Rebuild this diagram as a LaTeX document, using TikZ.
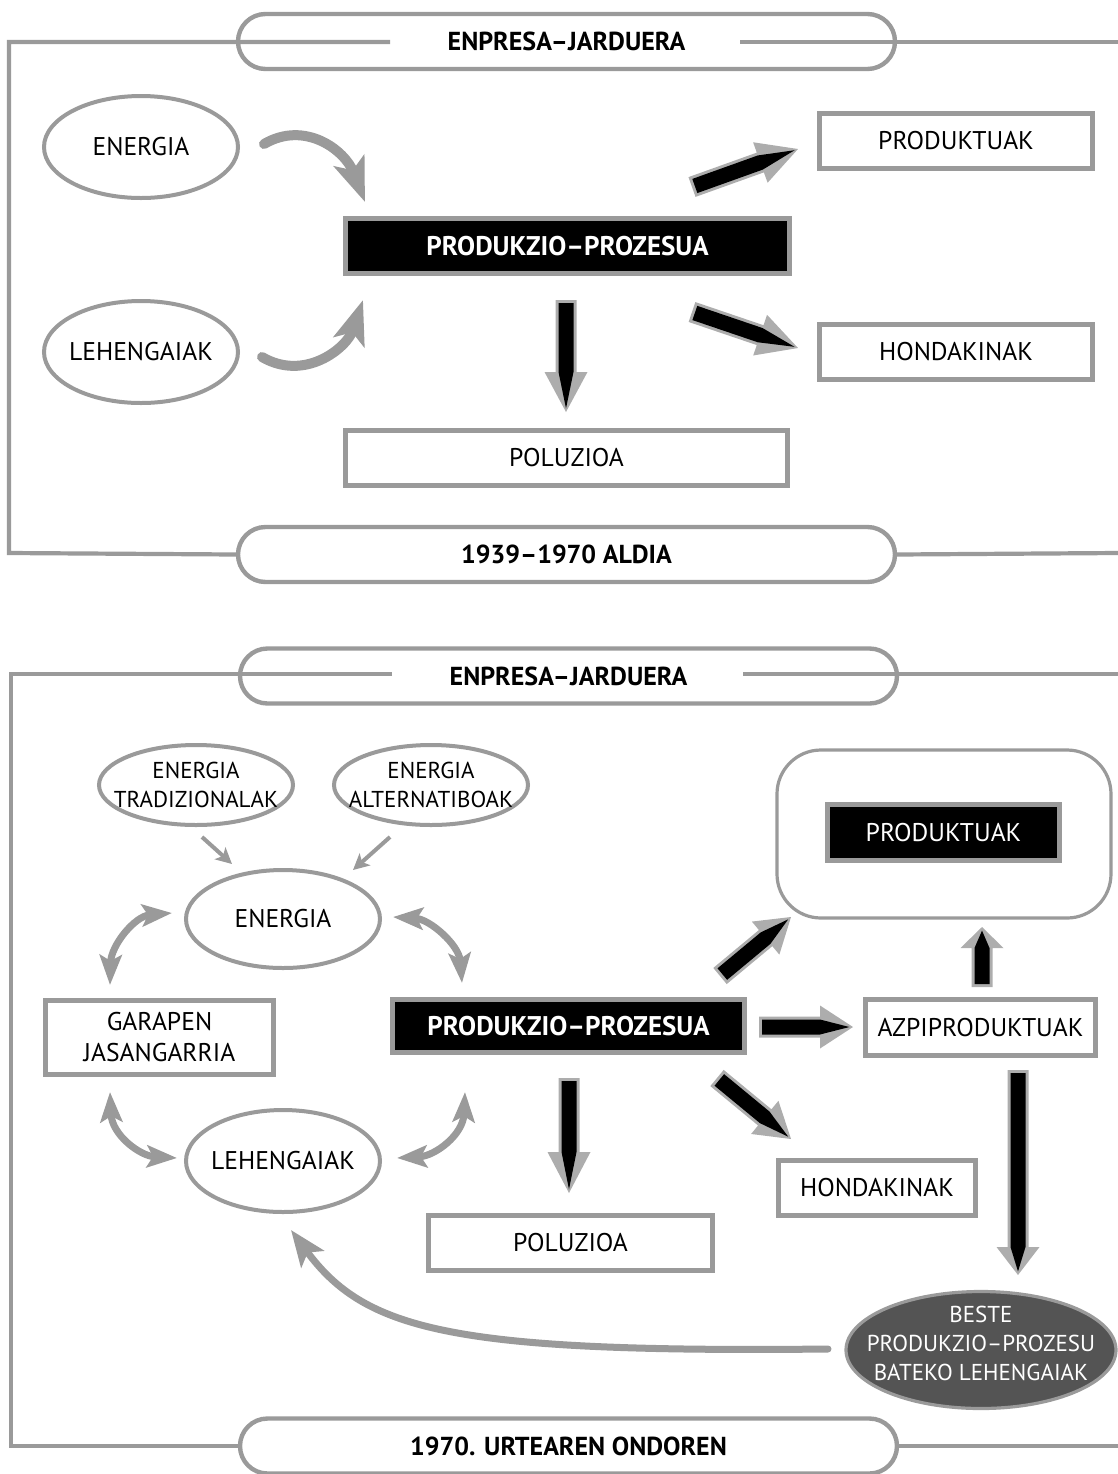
\documentclass[tikz,border=0pt]{standalone}
\usepackage{fontspec}
\setmainfont{PT Sans}
\usetikzlibrary{arrows.meta,calc,shapes.geometric}

\definecolor{linegray}{HTML}{9A9A9A}
\definecolor{tipgray}{HTML}{ADADAD}
\definecolor{ovalfill}{HTML}{545454}

% Fat arrow: gray outline and head, black core. #1 tail, #2 tip, #3 head length
\newcommand\blockarrow[3]{%
  \path ($(#2)!#3!(#1)$) coordinate (bahead)
        ($(#1)!1.5pt!(#2)$) coordinate (batail)
        ($(#2)!1.8pt!(#1)$) coordinate (batip);
  \fill[tipgray] ($(#1)!5.25pt!90:(#2)$) -- ($(bahead)!5.25pt!90:(#2)$)
     -- ($(bahead)!10.75pt!90:(#2)$) -- (#2) -- ($(bahead)!10.75pt!-90:(#2)$)
     -- ($(bahead)!5.25pt!-90:(#2)$) -- ($(#1)!5.25pt!-90:(#2)$) -- cycle;
  \fill[black] ($(batail)!3.75pt!90:(#2)$) -- ($(bahead)!3.75pt!90:(#2)$)
     -- (batip) -- ($(bahead)!3.75pt!-90:(#2)$) -- ($(batail)!3.75pt!-90:(#2)$) -- cycle;
}

\tikzset{
  frameline/.style={draw=linegray,line width=2.1pt},
  pill/.style={rectangle,draw=linegray,line width=2.2pt,rounded corners=13.75pt,
    minimum width=328.5pt,minimum height=27.5pt,inner sep=0pt,
    font=\fontsize{13}{15}\selectfont\bfseries},
  oval/.style={ellipse,draw=linegray,line width=2pt,fill=white,inner xsep=-16pt,
    inner ysep=0pt,align=center},
  bigtext/.style={font=\fontsize{12.8}{15}\selectfont},
  smalltext/.style={font=\fontsize{11.5}{14.5}\selectfont},
  plainbox/.style={rectangle,draw=linegray,line width=2.5pt,fill=white,inner sep=0pt,
    align=center,font=\fontsize{12.8}{15.5}\selectfont},
  darkbox/.style={rectangle,draw=linegray,line width=2.5pt,fill=black,text=white,
    inner sep=0pt,font=\fontsize{12.8}{15}\selectfont},
  boldlabel/.style={font=\fontsize{13.5}{15}\selectfont\bfseries},
  bendarrow/.style={draw=linegray,line width=5pt,line cap=round,
    -{Stealth[length=22pt,width=16pt,inset=5pt]}},
  swaparrow/.style={draw=linegray,line width=3.5pt,
    {Stealth[length=15pt,width=11pt,inset=3pt]}-{Stealth[length=15pt,width=11pt,inset=3pt]}},
  feedarrow/.style={draw=linegray,line width=2pt,-{Stealth[length=8pt,width=8pt,inset=2pt]}},
  returnarrow/.style={draw=linegray,line width=3.5pt,line cap=round,
    -{Stealth[length=18pt,width=14pt,inset=4pt]}},
}

\begin{document}
\begin{tikzpicture}[x=0.5pt,y=-0.5pt]
\useasboundingbox (0,0) rectangle (1118,1474);

% ---------------- 1939-1970 ----------------
\node[pill] (topA) at (566.5,41.5) {ENPRESA–JARDUERA};
\node[pill] (topB) at (566.5,554.5) {1939–1970 ALDIA};
\draw[frameline] (390,42) -- (9,42) -- (9,553) -- (topB.west);
\draw[frameline] (740,42) -- (1118,42);
\draw[frameline] (topB.east) -- (1118,553);

\node[oval,bigtext,minimum width=97pt,minimum height=51pt] (enA) at (141,147) {ENERGIA};
\node[oval,bigtext,minimum width=97pt,minimum height=51pt] (leA) at (141,352) {LEHENGAIAK};
\node[darkbox,boldlabel,minimum width=222pt,minimum height=27.5pt] (ppA) at (567.5,246) {PRODUKZIO–PROZESUA};
\node[plainbox,minimum width=136.5pt,minimum height=27.5pt] (prA) at (956,141) {PRODUKTUAK};
\node[plainbox,minimum width=136.5pt,minimum height=27.5pt] (hoA) at (956,352) {HONDAKINAK};
\node[plainbox,minimum width=221pt,minimum height=27.5pt] (poA) at (566.5,458) {POLUZIOA};

\coordinate (enAout) at (264,144);
\coordinate (ppAin1) at (365,202);
\coordinate (leAout) at (262,357);
\coordinate (ppAin2) at (363,300);
\draw[bendarrow] (enAout) .. controls (305,120) and (345,150) .. (ppAin1);
\draw[bendarrow] (leAout) .. controls (305,382) and (347,348) .. (ppAin2);

\coordinate (a1t) at (692,187); \coordinate (a1h) at (798,149);
\coordinate (a2t) at (566,300); \coordinate (a2h) at (566,412);
\coordinate (a3t) at (692,312); \coordinate (a3h) at (798,348);
\blockarrow{a1t}{a1h}{20pt}
\blockarrow{a2t}{a2h}{20pt}
\blockarrow{a3t}{a3h}{20pt}

% ---------------- after 1970 ----------------
\node[pill] (botA) at (568.5,676) {ENPRESA–JARDUERA};
\node[pill] (botB) at (568.5,1446) {1970. URTEAREN ONDOREN};
\draw[frameline] (392,674) -- (11,674) -- (11,1446) -- (botB.west);
\draw[frameline] (743,674) -- (1118,674);
\draw[frameline] (botB.east) -- (1118,1446);

\node[oval,smalltext,minimum width=97pt,minimum height=40pt] (trad) at (196,785) {ENERGIA\\TRADIZIONALAK};
\node[oval,smalltext,minimum width=97pt,minimum height=40pt] (alt) at (431,785) {ENERGIA\\ALTERNATIBOAK};
\node[oval,bigtext,minimum width=97pt,minimum height=49pt] (enB) at (283,919) {ENERGIA};
\node[oval,bigtext,minimum width=97pt,minimum height=51pt] (leB) at (283,1161) {LEHENGAIAK};
\node[plainbox,minimum width=114pt,minimum height=37pt] (gar) at (159.5,1037.5) {GARAPEN\\JASANGARRIA};
\node[darkbox,boldlabel,minimum width=176pt,minimum height=26.5pt] (ppB) at (568.5,1026) {PRODUKZIO–PROZESUA};
\node[rectangle,draw=linegray,line width=1.6pt,rounded corners=22pt,minimum width=167pt,minimum height=84pt] (zone) at (944,834) {};
\node[darkbox,minimum width=116pt,minimum height=28pt] (prB) at (943.5,832.5) {PRODUKTUAK};
\node[plainbox,minimum width=115pt,minimum height=28pt] (azp) at (980.5,1027.5) {AZPIPRODUKTUAK};
\node[plainbox,minimum width=98.5pt,minimum height=27.5pt] (hoB) at (877,1188) {HONDAKINAK};
\node[plainbox,minimum width=142pt,minimum height=27.5pt] (poB) at (570.5,1243) {POLUZIOA};
\node[ellipse,draw=linegray,line width=1.6pt,fill=ovalfill,text=white,smalltext,align=center,
  inner xsep=-16pt,inner ysep=-7pt,text depth=7pt,minimum width=135pt,minimum height=58.5pt] (beste) at (981,1350)
  {BESTE\\PRODUKZIO–PROZESU\\BATEKO LEHENGAIAK};

% energy sources feeding ENERGIA
\coordinate (tradout) at (202,837); \coordinate (enBin1) at (232,864);
\coordinate (altout) at (390,837);  \coordinate (enBin2) at (353,870);
\draw[feedarrow] (tradout) -- (enBin1);
\draw[feedarrow] (altout) -- (enBin2);

% two-way exchanges around the cycle
\coordinate (garN) at (110,985);  \coordinate (enBW) at (172,913);
\coordinate (enBE) at (393,917);  \coordinate (ppBN) at (462,983);
\coordinate (garS) at (110,1092); \coordinate (leBW) at (177,1158);
\coordinate (leBE) at (397,1158); \coordinate (ppBS) at (465,1092);
\draw[swaparrow] (garN) .. controls (111,945) and (135,916) .. (enBW);
\draw[swaparrow] (enBE) .. controls (430,919) and (459,945) .. (ppBN);
\draw[swaparrow] (garS) .. controls (112,1135) and (140,1156) .. (leBW);
\draw[swaparrow] (leBE) .. controls (435,1156) and (463,1135) .. (ppBS);

% return of by-products as raw material
\coordinate (besteW) at (828,1349);
\coordinate (leBin) at (291,1230);
\draw[returnarrow] (besteW) .. controls (450,1353) and (365,1330) .. (leBin);

% process outputs
\coordinate (b1t) at (720,976);  \coordinate (b1h) at (791,917);
\coordinate (b2t) at (759,1027); \coordinate (b2h) at (853,1027);
\coordinate (b3t) at (717,1078); \coordinate (b3h) at (791,1139);
\coordinate (b4t) at (569,1078); \coordinate (b4h) at (569,1193);
\coordinate (b5t) at (982,987);  \coordinate (b5h) at (982,927);
\coordinate (b6t) at (1018,1070);\coordinate (b6h) at (1018,1275);
\blockarrow{b1t}{b1h}{16.5pt}
\blockarrow{b2t}{b2h}{16.5pt}
\blockarrow{b3t}{b3h}{17pt}
\blockarrow{b4t}{b4h}{20.5pt}
\blockarrow{b5t}{b5h}{10.5pt}
\blockarrow{b6t}{b6h}{14pt}
\end{tikzpicture}
\end{document}
